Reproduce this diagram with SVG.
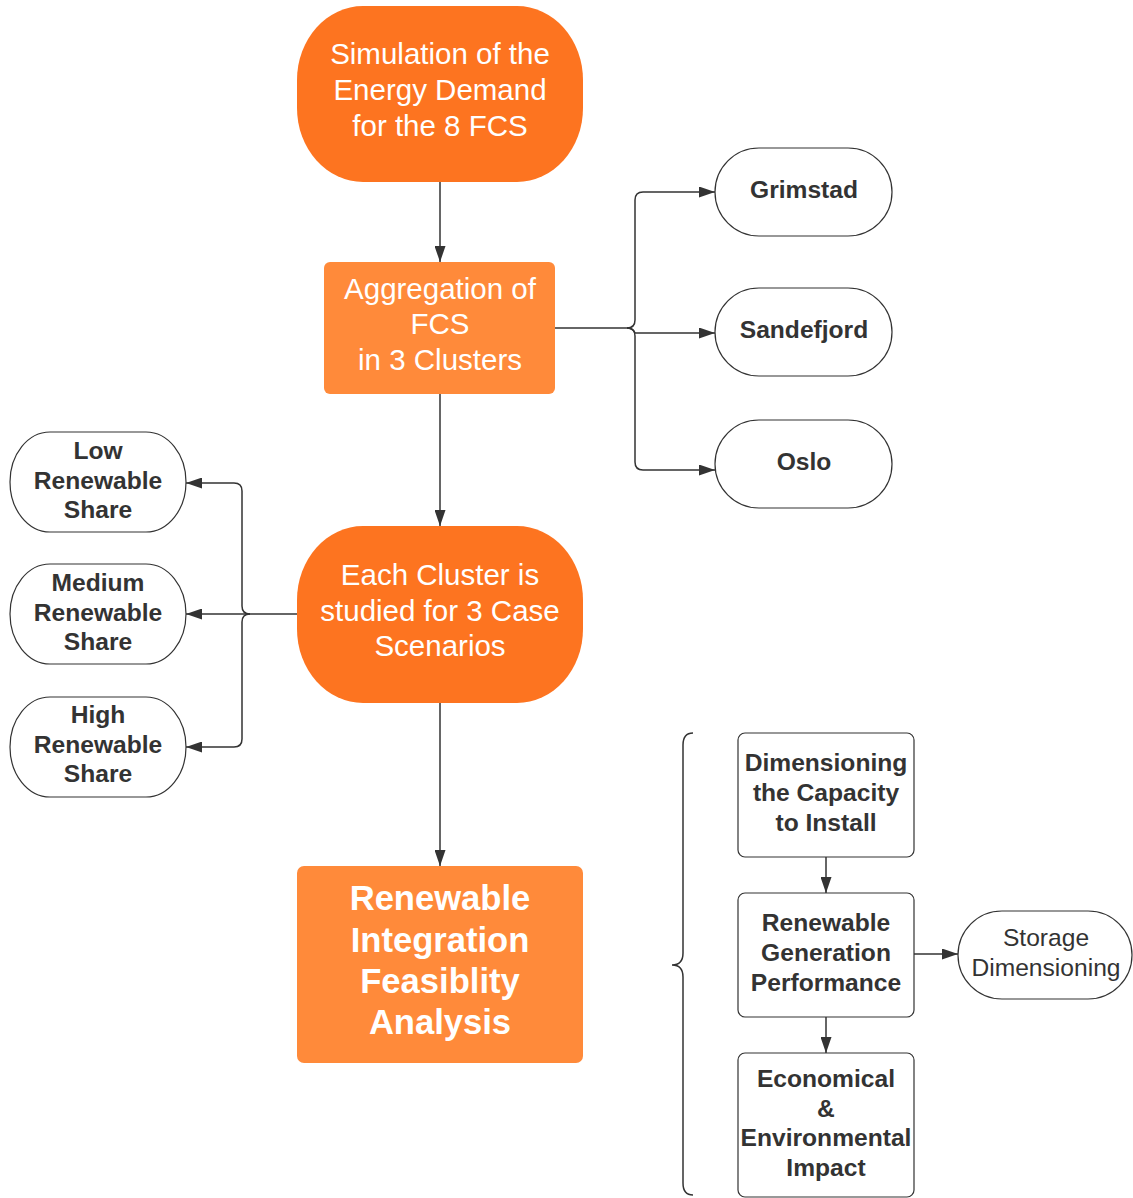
<svg xmlns="http://www.w3.org/2000/svg" width="1133" height="1198" viewBox="0 0 1133 1198">
<style>
.c{fill:none;stroke:#333;stroke-width:1.5}
.w{fill:#fff;stroke:#333;stroke-width:1.2}
.d{fill:#FD7420}
.l{fill:#FF8A3A}
.tw{font-family:"Liberation Sans",Arial,sans-serif;fill:#fff;text-anchor:middle;font-size:29.5px}
.tb{font-family:"Liberation Sans",Arial,sans-serif;fill:#fff;text-anchor:middle;font-size:34.6px;font-weight:bold}
.tk{font-family:"Liberation Sans",Arial,sans-serif;fill:#333;text-anchor:middle;font-size:24.6px;font-weight:bold}
.tr{font-family:"Liberation Sans",Arial,sans-serif;fill:#333;text-anchor:middle;font-size:24.6px}
</style>
<defs>
<marker id="ah" viewBox="0 0 16 11" refX="16" refY="5.5" markerWidth="16" markerHeight="11" markerUnits="userSpaceOnUse" orient="auto">
<path d="M0,0 L16,5.5 L0,11 z" fill="#333"/>
</marker>
</defs>
<g id="connectors">
<path class="c" d="M440,182 V262" marker-end="url(#ah)"/>
<path class="c" d="M440,394 V526" marker-end="url(#ah)"/>
<path class="c" d="M440,703 V866" marker-end="url(#ah)"/>
<path class="c" d="M555,328 H627"/>
<path class="c" d="M627,328 Q635,328 635,320 V200 Q635,192 643,192 H715" marker-end="url(#ah)"/>
<path class="c" d="M627,328 Q633,328 635,333 H715" marker-end="url(#ah)"/>
<path class="c" d="M627,328 Q635,328 635,336 V462 Q635,470 643,470 H715" marker-end="url(#ah)"/>
<path class="c" d="M297,614 H250"/>
<path class="c" d="M250,614 Q242,614 242,606 V491 Q242,483 234,483 H186" marker-end="url(#ah)"/>
<path class="c" d="M250,614 H186" marker-end="url(#ah)"/>
<path class="c" d="M250,614 Q242,614 242,622 V739 Q242,747 234,747 H186" marker-end="url(#ah)"/>
<path class="c" d="M826,857 V893" marker-end="url(#ah)"/>
<path class="c" d="M826,1017 V1053" marker-end="url(#ah)"/>
<path class="c" d="M914,954 H958" marker-end="url(#ah)"/>
<path class="c" stroke-width="1.2" d="M693,733 Q683,733 683,745 V953 Q683,965 672,965 Q683,965 683,977 V1183 Q683,1195 693,1195"/>
</g>
<g id="simulation">
<rect class="d" x="297" y="6" width="286" height="176" rx="66" ry="74"/>
<text class="tw" x="440" y="64">Simulation of the</text>
<text class="tw" x="440" y="100">Energy Demand</text>
<text class="tw" x="440" y="136">for the 8 FCS</text>
</g>
<g id="aggregation">
<rect class="l" x="324" y="262" width="231" height="132" rx="6"/>
<text class="tw" x="440" y="299">Aggregation of</text>
<text class="tw" x="440" y="334">FCS</text>
<text class="tw" x="440" y="370">in 3 Clusters</text>
</g>
<g id="grimstad">
<rect class="w" x="715" y="148" width="177" height="88" rx="44" ry="44"/>
<text class="tk" x="804" y="198">Grimstad</text>
</g>
<g id="sandefjord">
<rect class="w" x="715" y="288" width="177" height="88" rx="44" ry="44"/>
<text class="tk" x="804" y="338">Sandefjord</text>
</g>
<g id="oslo">
<rect class="w" x="715" y="420" width="177" height="88" rx="44" ry="44"/>
<text class="tk" x="804" y="470">Oslo</text>
</g>
<g id="cluster">
<rect class="d" x="297" y="526" width="286" height="177" rx="66" ry="74"/>
<text class="tw" x="440" y="585">Each Cluster is</text>
<text class="tw" x="440" y="621">studied for 3 Case</text>
<text class="tw" x="440" y="656">Scenarios</text>
</g>
<g id="low">
<rect class="w" x="10" y="432" width="176" height="100" rx="40" ry="50"/>
<text class="tk" x="98" y="459">Low</text>
<text class="tk" x="98" y="489">Renewable</text>
<text class="tk" x="98" y="518">Share</text>
</g>
<g id="medium">
<rect class="w" x="10" y="564" width="176" height="100" rx="40" ry="50"/>
<text class="tk" x="98" y="591">Medium</text>
<text class="tk" x="98" y="621">Renewable</text>
<text class="tk" x="98" y="650">Share</text>
</g>
<g id="high">
<rect class="w" x="10" y="697" width="176" height="100" rx="40" ry="50"/>
<text class="tk" x="98" y="723">High</text>
<text class="tk" x="98" y="753">Renewable</text>
<text class="tk" x="98" y="782">Share</text>
</g>
<g id="feasibility">
<rect class="l" x="297" y="866" width="286" height="197" rx="7"/>
<text class="tb" x="440" y="910">Renewable</text>
<text class="tb" x="440" y="952">Integration</text>
<text class="tb" x="440" y="993">Feasiblity</text>
<text class="tb" x="440" y="1034">Analysis</text>
</g>
<g id="dimensioning">
<rect class="w" x="738" y="733" width="176" height="124" rx="7"/>
<text class="tk" x="826" y="771">Dimensioning</text>
<text class="tk" x="826" y="801">the Capacity</text>
<text class="tk" x="826" y="831">to Install</text>
</g>
<g id="generation">
<rect class="w" x="738" y="893" width="176" height="124" rx="7"/>
<text class="tk" x="826" y="931">Renewable</text>
<text class="tk" x="826" y="961">Generation</text>
<text class="tk" x="826" y="991">Performance</text>
</g>
<g id="impact">
<rect class="w" x="738" y="1053" width="176" height="144" rx="7"/>
<text class="tk" x="826" y="1087">Economical</text>
<text class="tk" x="826" y="1117">&amp;</text>
<text class="tk" x="826" y="1146">Environmental</text>
<text class="tk" x="826" y="1176">Impact</text>
</g>
<g id="storage">
<rect class="w" x="958" y="911" width="174" height="88" rx="44" ry="44"/>
<text class="tr" x="1046" y="946">Storage</text>
<text class="tr" x="1046" y="976">Dimensioning</text>
</g>
</svg>
